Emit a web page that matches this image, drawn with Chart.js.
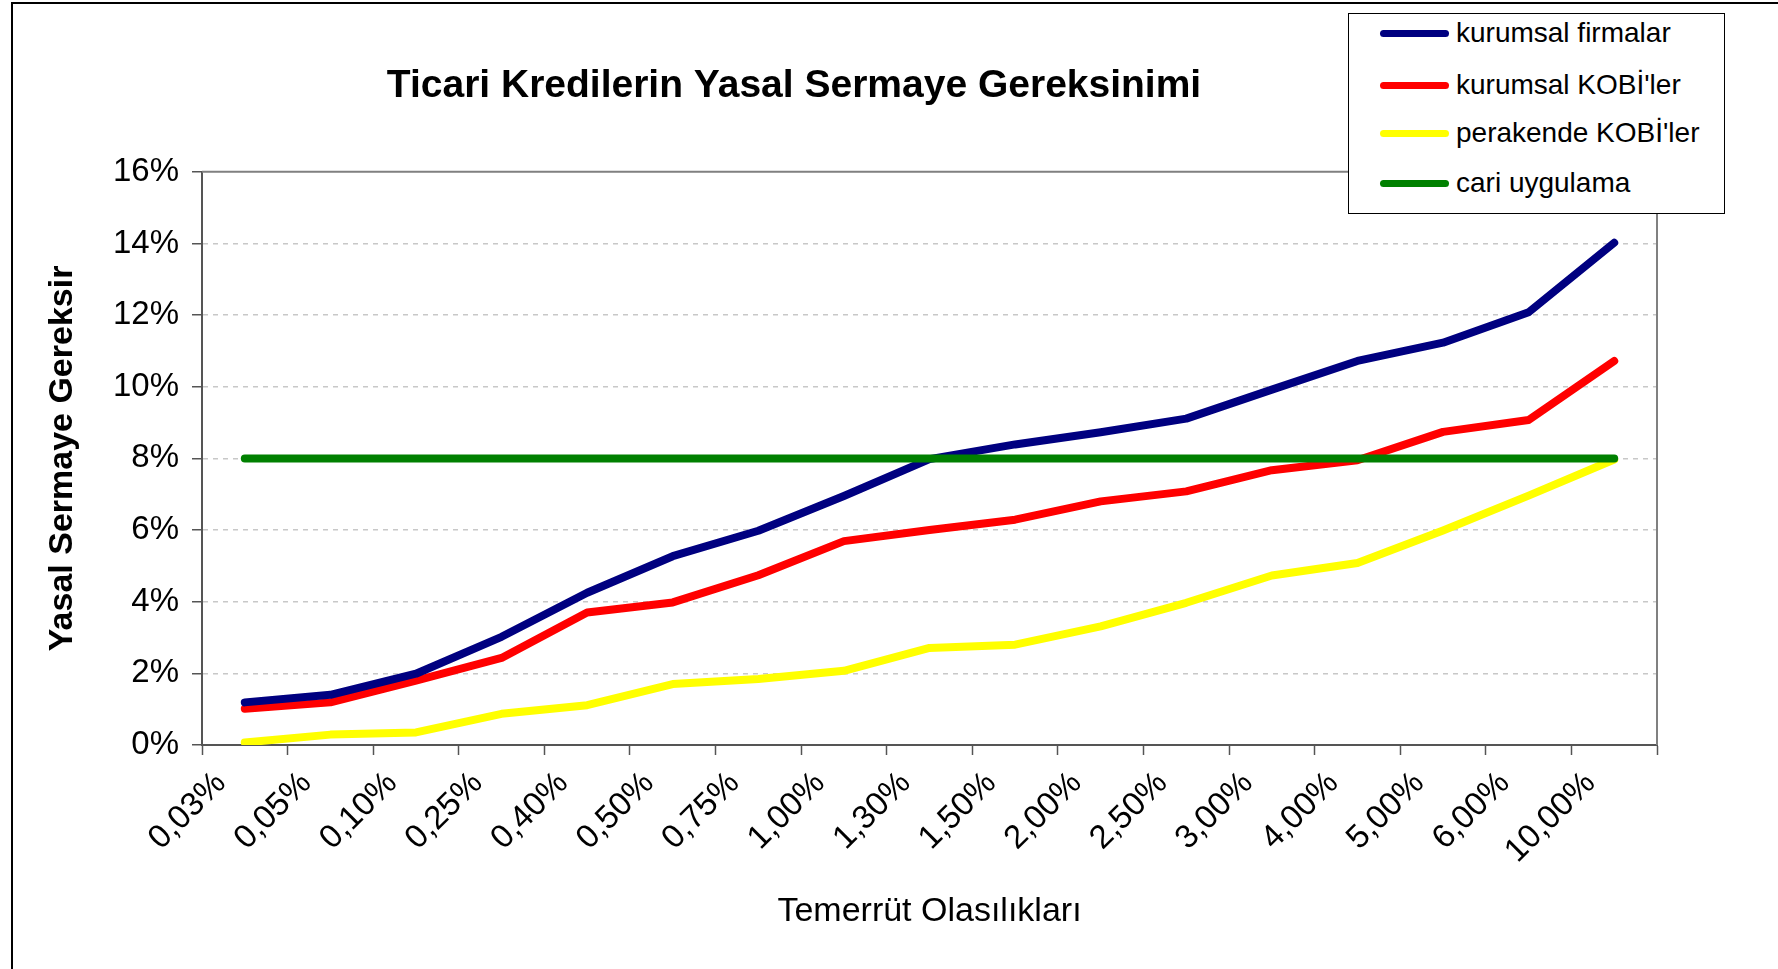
<!DOCTYPE html>
<html><head><meta charset="utf-8">
<script src="https://cdn.jsdelivr.net/npm/chart.js@4.4.1/dist/chart.umd.min.js"></script>
<style>
html,body{margin:0;padding:0;background:#fff;overflow:hidden;}
#wrap{position:relative;width:1778px;height:969px;overflow:hidden;}
canvas{position:absolute;left:0;top:0;}
#frame{position:absolute;left:11px;top:2px;width:1800px;height:1000px;border-left:2px solid #000;border-top:2px solid #000;pointer-events:none;}
#legend{position:absolute;left:1348px;top:13px;width:375px;height:199px;border:1px solid #000;background:#fff;font-family:'Liberation Sans',Arial,sans-serif;font-size:28px;color:#000;}
.row{position:absolute;left:0;height:0;width:100%;}
.swatch{position:absolute;left:31px;width:69px;height:7px;border-radius:3.5px;top:-3.5px;}
.lbl{position:absolute;left:107px;top:-16px;white-space:nowrap;line-height:32px;}
</style></head>
<body>
<div id="wrap">
<canvas id="c" width="1778" height="969"></canvas>
<div id="frame"></div>
<div id="legend"></div>
</div>
<script>
const categories = ['0,03%','0,05%','0,10%','0,25%','0,40%','0,50%','0,75%','1,00%','1,30%','1,50%','2,00%','2,50%','3,00%','4,00%','5,00%','6,00%','10,00%'];
const kurumsalFirmalar = [1.19,1.40,1.99,3.02,4.25,5.27,5.98,6.95,7.98,8.39,8.73,9.11,9.92,10.72,11.23,12.08,14.02];
const kurumsalKOBI = [1.01,1.19,1.80,2.43,3.70,3.98,4.74,5.69,6.00,6.29,6.80,7.08,7.67,7.95,8.74,9.07,10.72];
const perakendeKOBI = [0.07,0.29,0.35,0.87,1.11,1.70,1.84,2.07,2.71,2.80,3.31,3.97,4.73,5.08,5.99,6.96,7.97];
const cariUygulama = [8,8,8,8,8,8,8,8,8,8,8,8,8,8,8,8,8];
const seriesNames = ['kurumsal firmalar','kurumsal KOBİ\'ler','perakende KOBİ\'ler','cari uygulama'];
const seriesColors = ['#000080','#ff0000','#ffff00','#008000'];
const yTicks = [0,2,4,6,8,10,12,14,16];
const chartTitle = 'Ticari Kredilerin Yasal Sermaye Gereksinimi';
const yTitle = 'Yasal Sermaye Gereksir';
const xTitle = 'Temerrüt Olasılıkları';

const FONT = "'Liberation Sans', Arial, sans-serif";
const seriesData = [kurumsalFirmalar, kurumsalKOBI, perakendeKOBI, cariUygulama];
const orders = [1,2,3,0];

const datasets = seriesData.map((d,i)=>({
  label: seriesNames[i], data: d, borderColor: seriesColors[i], backgroundColor: seriesColors[i],
  borderWidth: 8, pointRadius: 0, pointHoverRadius: 0, tension: 0, fill: false,
  borderCapStyle: 'round', borderJoinStyle: 'round', order: orders[i]
}));

// legend (real text)
const lg = document.getElementById('legend');
const rowY = [19,71,119,169];
seriesNames.forEach((n,i)=>{
  const r = document.createElement('div'); r.className='row'; r.style.top=rowY[i]+'px';
  const s = document.createElement('div'); s.className='swatch'; s.style.background=seriesColors[i];
  const t = document.createElement('div'); t.className='lbl'; t.textContent=n;
  r.appendChild(s); r.appendChild(t); lg.appendChild(r);
});

const titleShift = { id:'titleShift', afterLayout(chart){ const t=chart.titleBlock; if(t){ t.left=0; t.right=1588; } } };
const plotFrame = { id:'plotFrame', beforeDatasetsDraw(chart){
  const {ctx, chartArea:a} = chart; ctx.save(); ctx.strokeStyle='#808080'; ctx.lineWidth=2;
  ctx.beginPath(); ctx.moveTo(a.left,a.top); ctx.lineTo(a.right,a.top); ctx.lineTo(a.right,a.bottom); ctx.stroke(); ctx.restore(); } };
const whiteBg = { id:'whiteBg', beforeDraw(chart){ const c=chart.ctx; c.save(); c.fillStyle='#fff'; c.fillRect(0,0,chart.width,chart.height); c.restore(); } };

new Chart(document.getElementById('c'), {
  type: 'line',
  data: { labels: categories, datasets },
  plugins: [whiteBg, titleShift, plotFrame],
  options: {
    responsive: false, animation: false, devicePixelRatio: 1,
    layout: { padding: { left: 0, right: 121, top: 0, bottom: 0 } },
    plugins: {
      legend: { display: false }, tooltip: { enabled: false },
      title: { display: true, text: chartTitle, color: '#000', font: { family: FONT, size: 39, weight: 'bold', lineHeight: 1.2 }, padding: { top: 63, bottom: 62 } }
    },
    scales: {
      x: {
        offset: true,
        grid: { display: true, drawOnChartArea: false, drawTicks: true, tickLength: 10, offset: true, tickColor: '#555', tickWidth: 1.5 },
        border: { display: true, color: '#555', width: 2 },
        ticks: { color: '#000', font: { family: FONT, size: 33 }, minRotation: 45, maxRotation: 45, autoSkip: false, padding: 9, labelOffset: -24 },
        title: { display: true, text: xTitle, color: '#000', font: { family: FONT, size: 34, lineHeight: 1.2 }, padding: { top: 0, bottom: 37 } },
        afterFit(s){ s.height = 224; }
      },
      y: {
        min: 0, max: 16,
        afterBuildTicks(s){ s.ticks = yTicks.map(v=>({value:v})); },
        grid: { color: c => (c.tick && (c.tick.value===16 || c.tick.value===0)) ? 'rgba(0,0,0,0)' : '#c8c8c8', lineWidth: 1.5, tickLength: 10, tickColor: '#555', tickWidth: 1.5, tickBorderDash: [] },
        border: { display: true, color: '#555', width: 2, dash: [5,5] },
        ticks: { color: '#000', font: { family: FONT, size: 33 }, padding: 13, callback: v => v + '%' },
        title: { display: true, text: yTitle, color: '#000', font: { family: FONT, size: 34, weight: 'bold', lineHeight: 1.2 }, padding: { top: 42, bottom: 0 } },
        afterFit(s){ s.width = 202; }
      }
    }
  }
});
</script>
</body></html>
